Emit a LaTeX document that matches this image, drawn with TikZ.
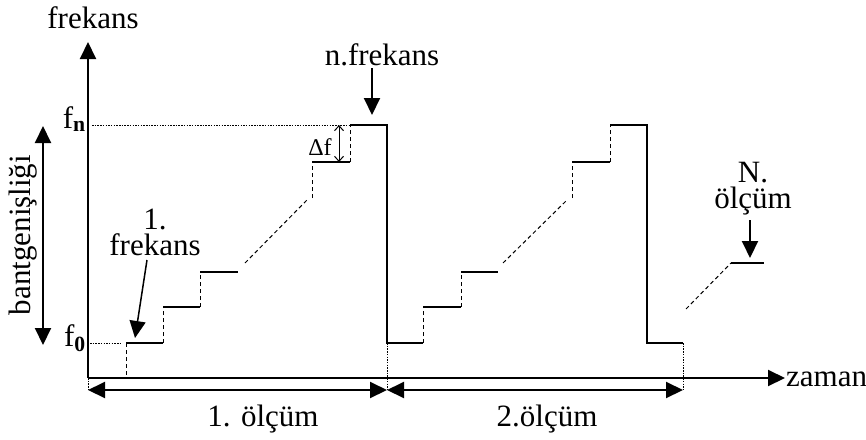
\documentclass[tikz,border=0pt]{standalone}
\usepackage{fontspec}
\setmainfont{Liberation Serif}
\usetikzlibrary{arrows.meta}
\begin{document}
\begin{tikzpicture}[x=1pt,y=-1pt,
  lbl/.style={inner sep=0pt,font=\fontsize{31}{26}\selectfont},
  axisline/.style={line width=2pt},
  stepline/.style={line width=2pt},
  dsh/.style={line width=1pt,dash pattern=on 4pt off 3pt},
  dtt/.style={line width=0.8pt,dash pattern=on 1.5pt off 1.2pt},
  bigtip/.style={-{Triangle[width=16pt,length=17pt]}},
  bigboth/.style={{Triangle[width=16pt,length=17pt]}-{Triangle[width=16pt,length=17pt]}}
]
\useasboundingbox (0,0) rectangle (866,439);
% axes
\coordinate (O) at (88,378);
\coordinate (ytip) at (88,42);
\coordinate (xtip) at (785,378);
\draw[axisline,bigtip] (O) -- (ytip);
\draw[axisline,bigtip] (O) -- (xtip);
\node[lbl,anchor=west] (zaman) at (786,379) {zaman};
\node[lbl] (frek) at (93,18) {frekans};
% f labels
\node[lbl,anchor=base east] (fn) at (86,128) {f\textsubscript{\textbf{n}}};
\node[lbl,anchor=base east] (f0) at (86,346) {f\textsubscript{\textbf{0}}};
\draw[dtt] (92,125) -- (350,125);
\draw[dtt] (90,343) -- (122,343);
% bandwidth
\coordinate (bwt) at (43,126);
\coordinate (bwb) at (43,345);
\draw[line width=2pt,bigboth] (bwb) -- (bwt);
\node[lbl,rotate=90] (bw) at (23,235) {bantgenişliği};
% measurement 1
\draw[stepline] (126,343) -- (163,343);
\draw[stepline] (163,307) -- (200,307);
\draw[stepline] (200,272) -- (238,272);
\draw[stepline] (312,162) -- (350,162);
\draw[stepline] (350,125) -- (387,125) -- (387,343) -- (423,343);
\draw[dsh] (126,343) -- (126,378);
\draw[dsh] (163,343) -- (163,307);
\draw[dsh] (200,307) -- (200,272);
\draw[dsh] (245,263) -- (307,200);
\draw[dsh] (312,198) -- (312,162);
\draw[dsh] (350,162) -- (350,125);
% measurement 2
\draw[stepline] (423,307) -- (461,307);
\draw[stepline] (461,272) -- (498,272);
\draw[stepline] (572,162) -- (610,162);
\draw[stepline] (610,125) -- (647,125) -- (647,343) -- (683,343);
\draw[dsh] (423,343) -- (423,307);
\draw[dsh] (461,307) -- (461,272);
\draw[dsh] (503,263) -- (567,200);
\draw[dsh] (572,198) -- (572,162);
\draw[dsh] (610,162) -- (610,125);
% N
\draw[dsh] (686,309) -- (731,263);
\draw[stepline] (731,263) -- (764,263);
% dotted verticals
\draw[dtt] (88,378) -- (88,390);
\draw[dtt] (387,343) -- (387,390);
\draw[dtt] (683,343) -- (683,390);
% dimension arrows
\coordinate (d0) at (88,390);
\coordinate (d1) at (387,390);
\coordinate (d2) at (683,390);
\draw[line width=2pt,bigboth] (d0) -- (d1);
\draw[line width=2pt,bigboth] (d1) -- (d2);
\node[lbl] (olc1) at (263,419) {1. ölçüm};
\node[lbl] (olc2) at (547,419) {2.ölçüm};
% delta f
\coordinate (dft) at (339,125);
\coordinate (dfb) at (339,162);
\draw[line width=1pt,{Straight Barb[length=5pt,width=9pt]}-{Straight Barb[length=5pt,width=9pt]}] (dft) -- (dfb);
\node[lbl,font=\fontsize{24}{26}\selectfont] (df) at (320,147) {Δf};
% n. frekans
\node[lbl] (nfrek) at (382,55) {n.frekans};
\coordinate (nfa) at (372,68);
\coordinate (nfb) at (372,115);
\draw[line width=2pt,bigtip] (nfa) -- (nfb);
% 1. frekans
\node[lbl,align=center] (onefrek) at (155,232) {1.\\frekans};
\coordinate (ofa) at (147,260);
\coordinate (ofb) at (135,338);
\draw[line width=1.5pt,bigtip] (ofa) -- (ofb);
% N. olcum
\node[lbl,align=center] (Nolc) at (753,189) {N.\\ölçüm};
\coordinate (Na) at (750,220);
\coordinate (Nb) at (750,258);
\draw[line width=2pt,bigtip] (Na) -- (Nb);
\end{tikzpicture}
\end{document}
